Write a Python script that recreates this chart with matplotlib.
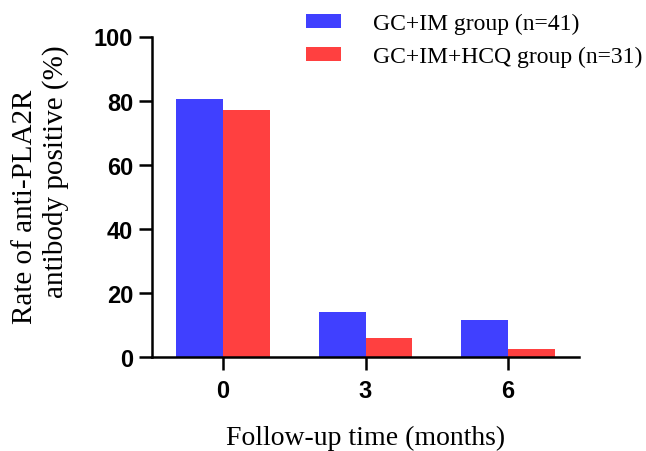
import numpy as np
import matplotlib
matplotlib.use("Agg")
import matplotlib.pyplot as plt

# values
months = ["0", "3", "6"]
gc_im = [80.5, 14.0, 11.7]
gc_im_hcq = [77.0, 6.0, 2.6]
series_labels = ["GC+IM group (n=41)", "GC+IM+HCQ group (n=31)"]
y_ticks = [0, 20, 40, 60, 80, 100]

serif = ["Liberation Serif", "DejaVu Serif"]
sans = ["Liberation Sans", "DejaVu Sans"]

W, H = 646, 452
fig = plt.figure(figsize=(W / 100, H / 100), dpi=100)
ax = fig.add_axes([152 / W, 1 - 358 / H, (579 - 152) / W, (358 - 37.5) / H])

x = np.arange(len(months))
w = 0.33
b1 = ax.bar(x - w / 2, gc_im, width=w, color="#4040ff", label=series_labels[0])
b2 = ax.bar(x + w / 2, gc_im_hcq, width=w, color="#ff4040", label=series_labels[1])

ax.set_xlim(-0.5, 2.5)
ax.set_ylim(0, 100)
ax.set_xticks(x)
ax.set_xticklabels(months)
ax.set_yticks(y_ticks)

for s in ["top", "right"]:
    ax.spines[s].set_visible(False)
for s in ["left", "bottom"]:
    ax.spines[s].set_linewidth(1.8)

ax.tick_params(axis="both", length=9.5, width=1.8)
ax.tick_params(axis="x", pad=6)
ax.tick_params(axis="y", pad=4)
for lbl in ax.get_xticklabels() + ax.get_yticklabels():
    lbl.set_fontfamily(sans)
    lbl.set_fontweight("bold")
    lbl.set_fontsize(17)

ax.set_xlabel("Follow-up time (months)", family=serif, fontsize=20, labelpad=16.5)

# two-line y label, drawn as two lines with their own offsets
fig.text(32 / W, 1 - 207 / H, "Rate of anti-PLA2R", family=serif, fontsize=21,
         rotation=90, rotation_mode="anchor", ha="center", va="baseline")
fig.text(63 / W, 1 - 172 / H, "antibody positive (%)", family=serif, fontsize=21,
         rotation=90, rotation_mode="anchor", ha="center", va="baseline")

fig.legend(handles=[b1, b2], labels=series_labels, loc="upper left",
           bbox_to_anchor=(306 / W, 1 - 14 / H), frameon=False,
           borderpad=0, borderaxespad=0,
           prop={"family": serif, "size": 17},
           handlelength=1.48, handleheight=0.55, handletextpad=1.36,
           labelspacing=0.5)

fig.savefig("out.png", dpi=100)
